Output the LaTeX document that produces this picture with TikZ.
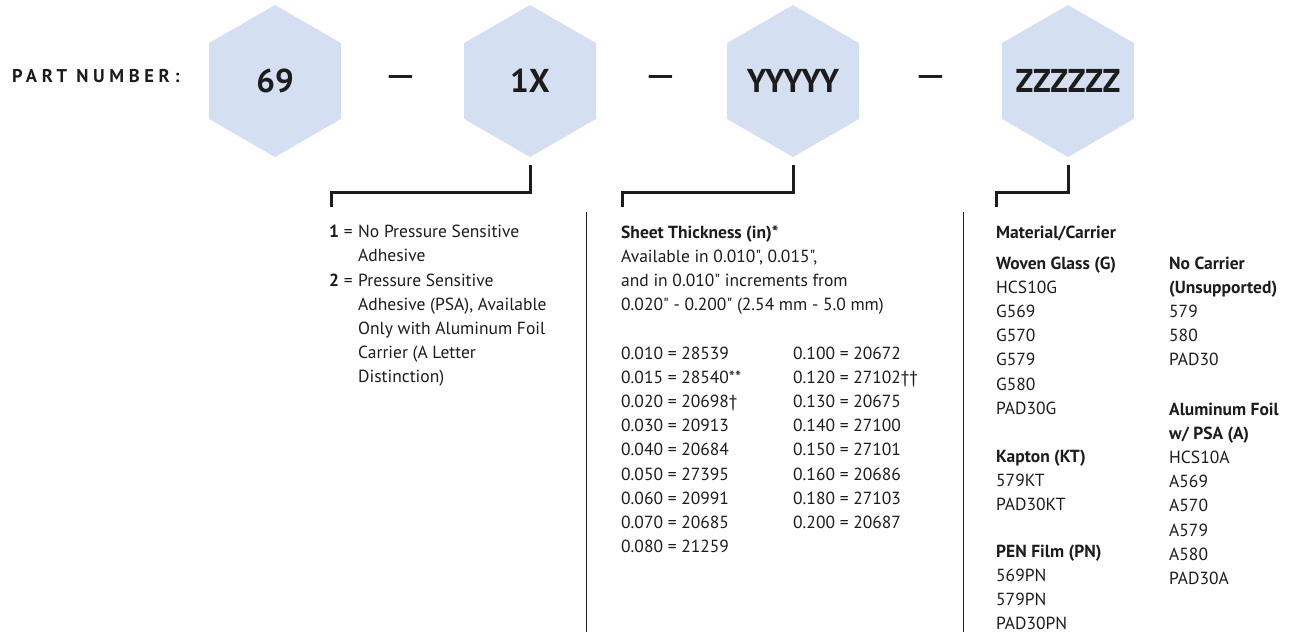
\documentclass[tikz,border=0pt]{standalone}
\usepackage{fontspec}
\setmainfont{PT Sans}[Ligatures=TeXOff]
\newfontfamily\spacedfont[LetterSpace=25]{PT Sans}
\usepackage{xcolor}
\definecolor{hexblue}{RGB}{212,224,241}
\definecolor{ink}{RGB}{28,28,28}
\usepackage{tikz}
\usetikzlibrary{shapes.geometric}
\newcommand{\stack}[1]{\begin{tabular}[t]{@{}l@{}}#1\end{tabular}}
\tikzset{
    hex/.style={shape=regular polygon, regular polygon sides=6, regular polygon rotate=30,
        minimum size=152pt, inner sep=0pt, fill=hexblue},
    hexlbl/.style={text=ink, font=\fontsize{33}{33}\selectfont\bfseries},
    sep/.style={inner sep=0pt, text=ink, font=\fontsize{40}{40}\selectfont},
    bracket/.style={draw=ink, line width=3pt},
    divider/.style={draw=ink, line width=1.3pt},
    body/.style={anchor=base west, inner sep=0pt, text=ink,
        font=\fontsize{17.5}{24.2}\selectfont}}

\begin{document}
\begin{tikzpicture}[x=1pt, y=-1pt]
    \useasboundingbox (0,0) rectangle (1291,634);

            \node[anchor=base west, inner sep=0pt, text=ink, font=\spacedfont\fontsize{18.5}{18.5}\selectfont\bfseries] (partlbl) at (12,82) {PART NUMBER:};

            \node[hex, label={[hexlbl]center:69}] (hexbase) at (275,81) {};
            \node[hex, label={[hexlbl]center:1X}] (hexpsa) at (530,81) {};
            \node[hex, label={[hexlbl]center:YYYYY}] (hexthick) at (793,81) {};
            \node[hex, label={[hexlbl]center:ZZZZZZ}] (hexmat) at (1068,81) {};

            \node[sep] (dash1) at (401,82) {—};
            \node[sep] (dash2) at (661,82) {—};
            \node[sep] (dash3) at (931,82) {—};

            \coordinate (brpsa) at (331,207);
            \coordinate (brthick) at (622,207);
            \coordinate (brmat) at (996,207);

            \draw[bracket] ([yshift=-8pt]hexpsa.south) -- ++(0,27) -| (brpsa);
            \draw[bracket] ([yshift=-8pt]hexthick.south) -- ++(0,27) -| (brthick);
            \draw[bracket] ([yshift=-8pt]hexmat.south) -- ++(0,27) -| (brmat);

            \coordinate (divA) at (586.5,212);
            \coordinate (divAend) at (586.5,632);
            \coordinate (divB) at (963.5,212);
            \coordinate (divBend) at (963.5,632);
            \draw[divider] (divA) -- (divAend);
            \draw[divider] (divB) -- (divBend);

            \node[body] (key1) at (329,237) {\textbf{1} =};
            \node[body] (opt1) at (358,237) {\stack{No Pressure Sensitive\\Adhesive}};
            \node[body] (key2) at (329,286) {\textbf{2} =};
            \node[body] (opt2) at (358,286) {\stack{Pressure Sensitive\\Adhesive (PSA), Available\\Only with Aluminum Foil\\Carrier (A Letter\\Distinction)}};

            \node[body] (thick) at (621,238) {\stack{\textbf{Sheet Thickness (in)*}\\Available in 0.010", 0.015",\\and in 0.010" increments from\\0.020" - 0.200" (2.54 mm - 5.0 mm)}};
            \node[body] (tableA) at (621,359) {\stack{0.010 = 28539\\0.015 = 28540**\\0.020 = 20698†\\0.030 = 20913\\0.040 = 20684\\0.050 = 27395\\0.060 = 20991\\0.070 = 20685\\0.080 = 21259}};
            \node[body] (tableB) at (793,359) {\stack{0.100 = 20672\\0.120 = 27102††\\0.130 = 20675\\0.140 = 27100\\0.150 = 27101\\0.160 = 20686\\0.180 = 27103\\0.200 = 20687}};

            \node[body, font=\fontsize{17.5}{24.2}\selectfont\bfseries] (mat) at (996,238) {Material/Carrier};
            \node[body] (woven) at (996,269) {\stack{\textbf{Woven Glass (G)}\\HCS10G\\G569\\G570\\G579\\G580\\PAD30G}};
            \node[body] (kapton) at (996,462) {\stack{\textbf{Kapton (KT)}\\579KT\\PAD30KT}};
            \node[body] (pen) at (996,557) {\stack{\textbf{PEN Film (PN)}\\569PN\\579PN\\PAD30PN}};
            \node[body] (nocarrier) at (1169,269) {\stack{\textbf{No Carrier}\\\textbf{(Unsupported)}\\579\\580\\PAD30}};
            \node[body] (alufoil) at (1169,415) {\stack{\textbf{Aluminum Foil}\\\textbf{w/ PSA (A)}\\HCS10A\\A569\\A570\\A579\\A580\\PAD30A}};

\end{tikzpicture}
\end{document}
